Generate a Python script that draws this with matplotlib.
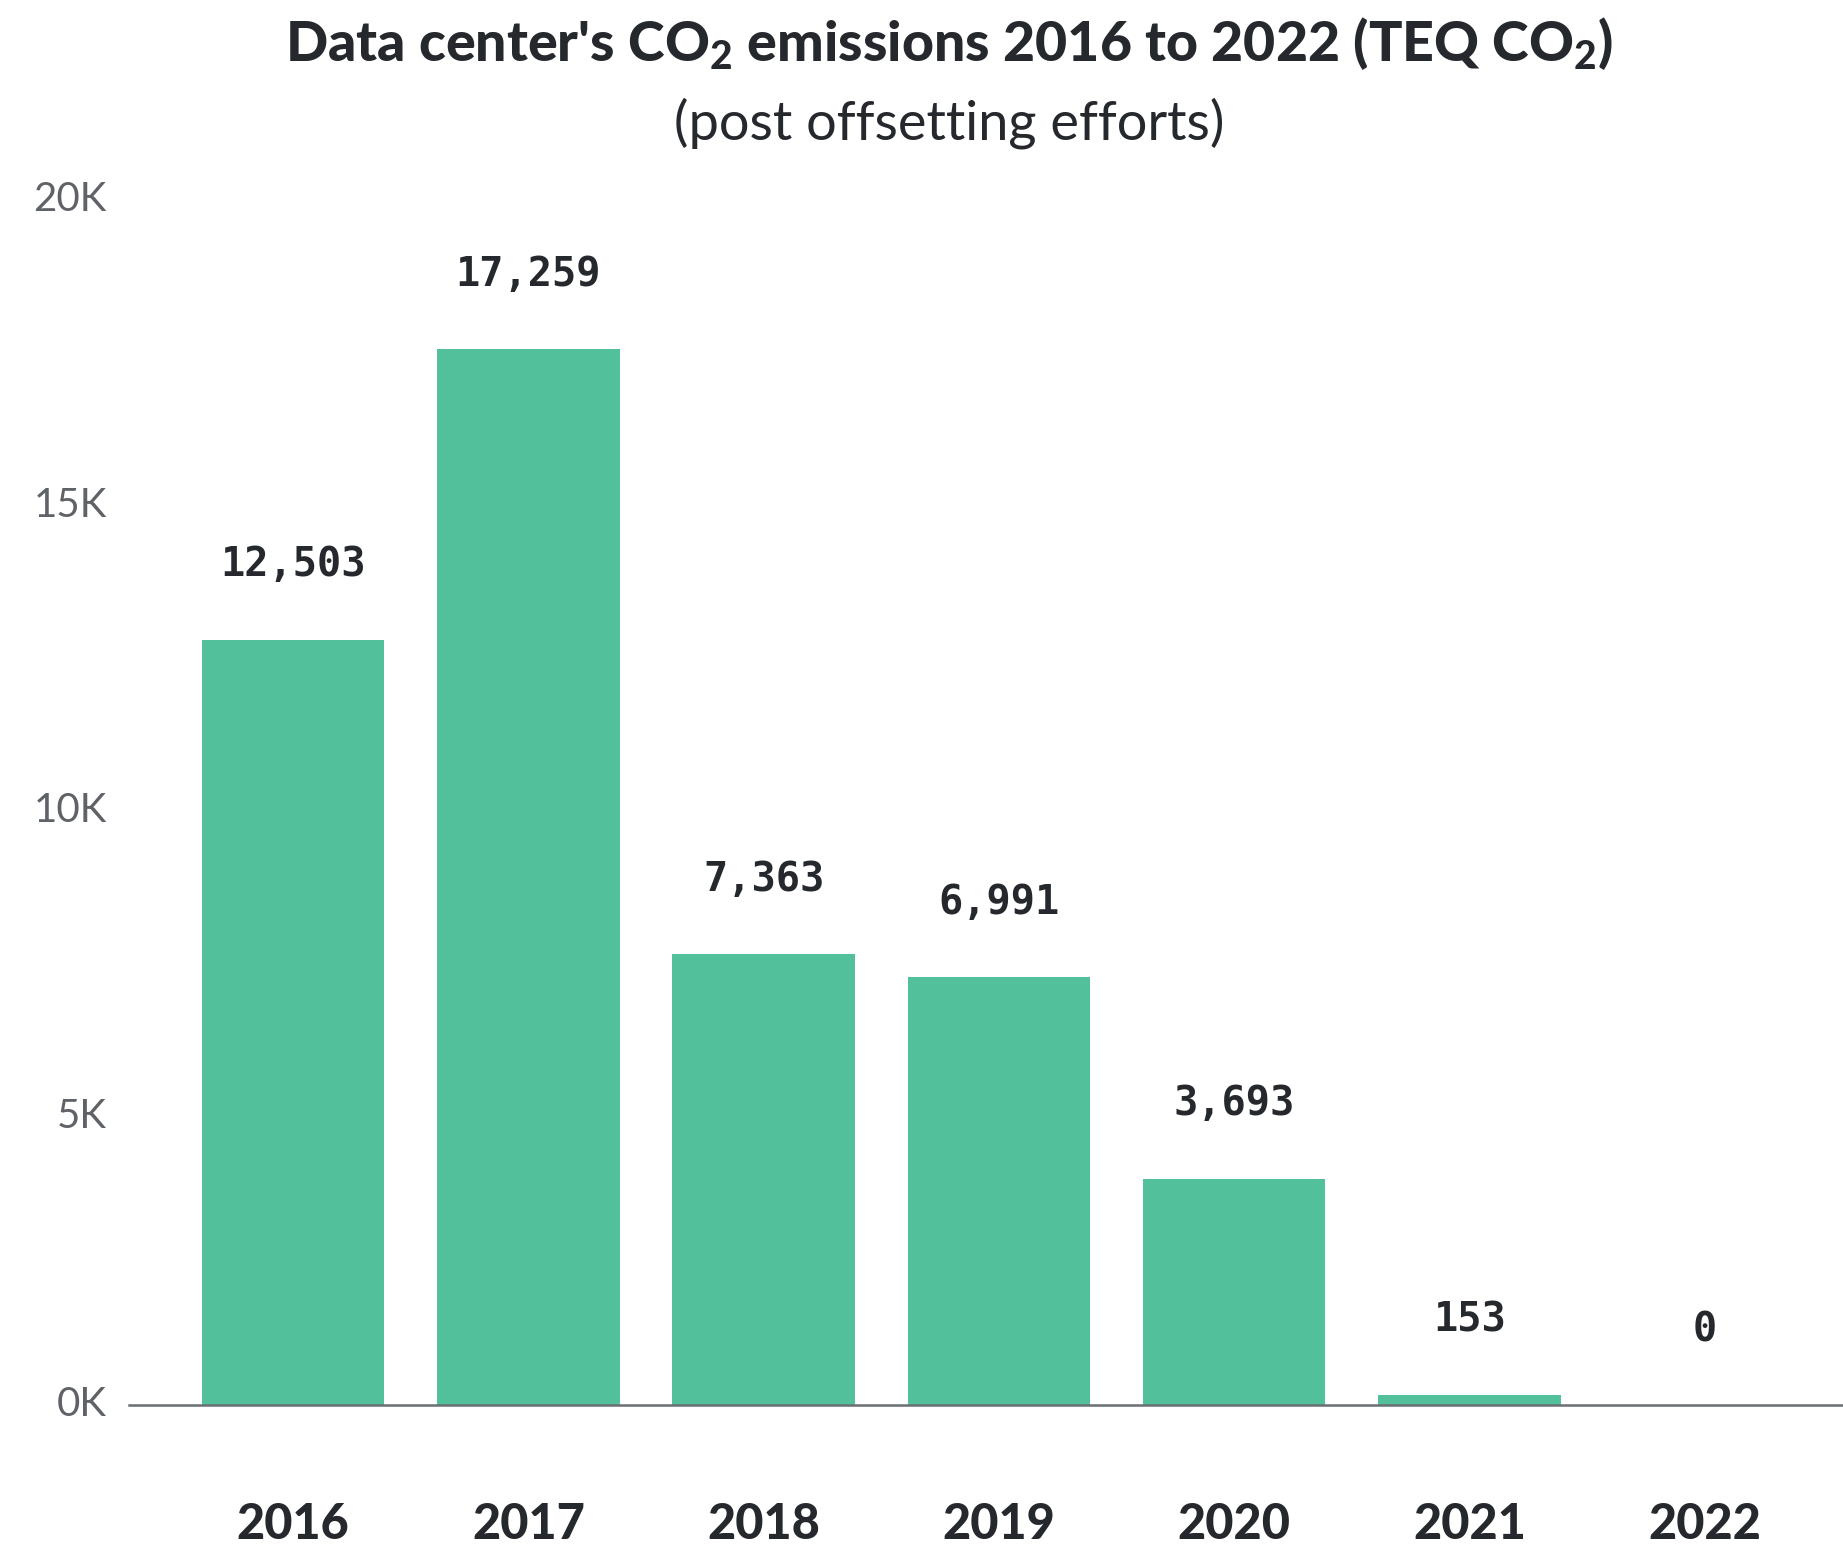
import matplotlib
matplotlib.use("Agg")
import matplotlib.pyplot as plt
from matplotlib.transforms import ScaledTranslation

years = ["2016", "2017", "2018", "2019", "2020", "2021", "2022"]
emissions = [12503, 17259, 7363, 6991, 3693, 153, 0]
ytick_values = [0, 5000, 10000, 15000, 20000]
ytick_labels = ["0K", "5K", "10K", "15K", "20K"]

bar_color = "#52c09b"
dark = "#25292d"
grey = "#5f6368"

plt.rcParams["mathtext.fontset"] = "custom"
plt.rcParams["mathtext.bf"] = "Lato:black"
plt.rcParams["mathtext.rm"] = "Lato:black"
plt.rcParams["mathtext.default"] = "bf"

fig = plt.figure(figsize=(18.43, 15.44), dpi=100)
ax = fig.add_axes([0.070, 0.0903, 0.930, 0.7922])

x = list(range(len(years)))
ax.bar(x, emissions, width=0.775, color=bar_color, zorder=2)
ax.set_xlim(-0.697, 6.587)
ax.set_ylim(0, 20000)

for s in ["top", "right", "left"]:
    ax.spines[s].set_visible(False)
ax.spines["bottom"].set_color("#6b6f73")
ax.spines["bottom"].set_linewidth(1.8)
ax.spines["bottom"].set_zorder(3)

ax.set_yticks([])
ax.set_xticks(x)
ax.set_xticklabels(years, fontfamily="Lato", fontweight="black", fontsize=35, color=dark)
ax.tick_params(axis="x", length=0, pad=70)

# y tick labels
for v, lab in zip(ytick_values, ytick_labels):
    dy = 0 if v == 0 else -18
    tr = ax.get_yaxis_transform() + ScaledTranslation(0, dy / 100, fig.dpi_scale_trans)
    ax.text(-0.013, v, lab, transform=tr, ha="right", va="center",
            fontfamily="Lato", fontweight="normal", fontsize=29, color=grey)

# value labels
for xi, v in zip(x, emissions):
    ax.annotate(f"{v:,}", (xi, v), xytext=(0, 54), textcoords="offset points",
                ha="center", va="center", fontfamily="DejaVu Sans Mono",
                fontweight="bold", fontsize=29, color=dark)

fig.text(0.515, 0.972, "Data center's CO$_2$ emissions 2016 to 2022 (TEQ CO$_2$)",
         ha="center", va="center", fontfamily="Lato", fontweight="black",
         fontsize=40, color=dark)
fig.text(0.515, 0.92, "(post offsetting efforts)", ha="center", va="center",
         fontfamily="Lato", fontweight="normal", fontsize=39, color=dark)

fig.savefig("out.png", dpi=100, facecolor="white")
